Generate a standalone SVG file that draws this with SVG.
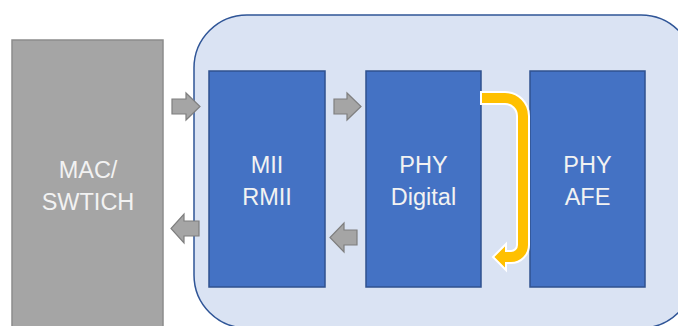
<svg xmlns="http://www.w3.org/2000/svg" width="678" height="326" viewBox="0 0 678 326">
<style>
.blk{fill:#4472C4;stroke:#2F528F;stroke-width:1.5}
.lbl{font-family:"Liberation Sans",Arial,sans-serif;font-size:23.5px;fill:#F2F2F2;text-anchor:middle}
.garr{fill:#A5A5A5;stroke:#7F7F7F;stroke-width:1.2;stroke-linejoin:miter}
</style>
<rect width="678" height="326" fill="#FFFFFF"/>
<g id="chip">
<rect x="194" y="15" width="500" height="313" rx="53" ry="53" fill="#DAE3F3" stroke="#2F5597" stroke-width="1.5"/>
</g>
<g id="mac">
<rect x="12" y="40" width="151" height="300" fill="#A5A5A5" stroke="#8C8C8C" stroke-width="1.5"/>
<text class="lbl" x="88" y="178">MAC/</text>
<text class="lbl" x="88" y="210">SWTICH</text>
</g>
<g id="mii">
<rect class="blk" x="209" y="71" width="116" height="216"/>
<text class="lbl" x="267" y="173">MII</text>
<text class="lbl" x="267" y="205">RMII</text>
</g>
<g id="phy-digital">
<rect class="blk" x="366" y="71" width="115" height="216"/>
<text class="lbl" x="423.5" y="173">PHY</text>
<text class="lbl" x="423.5" y="205">Digital</text>
</g>
<g id="phy-afe">
<rect class="blk" x="530" y="71" width="115" height="216"/>
<text class="lbl" x="587.5" y="173">PHY</text>
<text class="lbl" x="587.5" y="205">AFE</text>
</g>
<g id="connectors">
<polygon class="garr" points="172,99 186,99 186,93 200,106.5 186,120 186,114 172,114"/>
<polygon class="garr" points="334,99 347,99 347,93 361,106.5 347,120 347,114 334,114"/>
<polygon class="garr" points="199,221 184,221 184,214 171,228.5 184,243 184,236 199,236"/>
<polygon class="garr" points="357,230 344,230 344,223 330,237.5 344,252 344,245 357,245"/>
<path d="M481,92 H505 A24,24 0 0 1 529,116 V245 A18,18 0 0 1 511,263 H506 V270 L493,257 L506,244 V251 H511 A6,6 0 0 0 517,245 V116 A12,12 0 0 0 505,104 H481 Z" fill="#FFC000" stroke="#FFFFFF" stroke-width="2" stroke-linejoin="miter"/>
</g>
</svg>
